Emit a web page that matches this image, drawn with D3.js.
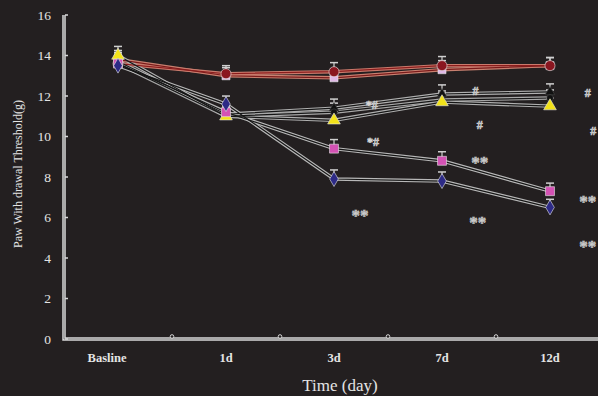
<!DOCTYPE html>
<html>
<head>
<meta charset="utf-8">
<script src="https://cdn.jsdelivr.net/npm/d3@7"></script>
<style>
  body { margin: 0; background: #231f20; }
  text { font-family: "Liberation Serif", "DejaVu Serif", serif; }
</style>
</head>
<body>
<script>
// categories and series
var days = ["Basline", "1d", "3d", "7d", "12d"];
var yTicks = [0, 2, 4, 6, 8, 10, 12, 14, 16];

var redCircle   = [13.6, 13.1, 13.2, 13.5, 13.5];
var lilacSquare = [13.8, 13.0, 12.9, 13.3, 13.5];
var blackA      = [13.7, 11.1, 11.4, 12.1, 12.2];
var blackB      = [13.6, 11.0, 11.2, 11.8, 11.9];
var yellowTri   = [14.0, 11.0, 10.8, 11.7, 11.5];
var pinkSquare  = [13.6, 11.2, 9.4, 8.8, 7.3];
var blueDiamond = [13.5, 11.6, 7.9, 7.8, 6.5];
var errs        = [0.3, 0.25, 0.3, 0.3, 0.25];

// significance marks: category, offset (fraction of band), value
var markLabels = ["**", "*#", "*#", "**", "**", "#", "#", "#", "#", "**", "**"];
var markDays   = ["3d", "3d", "3d", "7d", "7d", "7d", "7d", "12d", "12d", "12d", "12d"];
var markShift  = [0.24, 0.35, 0.36, 0.35, 0.33, 0.31, 0.35, 0.35, 0.4, 0.35, 0.35];
var markValues = [6.27, 11.56, 9.73, 8.9, 5.93, 12.25, 10.57, 12.15, 10.3, 7.0, 4.74];

var series = [
  {name: "lilac", values: lilacSquare, sym: d3.symbolSquare, size: 65, fill: "#e0b8e6", outer: "#c98070", inner: "#7a1a1a"},
  {name: "red", values: redCircle, sym: d3.symbolCircle, size: 80, fill: "#8a1620", outer: "#c97a6c", inner: "#8b1c1c"},
  {name: "blackA", values: blackA, sym: d3.symbolTriangle, size: 40, fill: "#111", outer: "#b0b0b0", inner: "#151515"},
  {name: "blackB", values: blackB, sym: d3.symbolCircle, size: 35, fill: "#111", outer: "#a8a8a8", inner: "#151515"},
  {name: "yellow", values: yellowTri, sym: d3.symbolTriangle, size: 70, fill: "#f2e21a", outer: "#b0b0b0", inner: "#151515"},
  {name: "pink", values: pinkSquare, sym: d3.symbolSquare, size: 80, fill: "#d452b4", outer: "#b8b8b8", inner: "#151515"},
  {name: "blue", values: blueDiamond, sym: d3.symbolDiamond, size: 65, fill: "#2d2a86", outer: "#b8b8b8", inner: "#151515"}
];

var W = 598, H = 396;
var svg = d3.select("body").append("svg")
    .attr("width", W)
    .attr("height", H)
    .style("background-color", "#231f20")

var x = d3.scaleBand().domain(days).range([64, 604]);
var y = d3.scaleLinear().domain([0, 16]).range([339, 15]);
var cx = d => x(d) + x.bandwidth() / 2;

// axes (double line look)
var axis = svg.append("g")
axis.append("path")
    .attr("d", "M" + 64 + "," + y(16) + "V" + y(0) + "H" + W)
    .attr("fill", "none").attr("stroke", "#d8d8d8").attr("stroke-width", 3.5)
axis.append("path")
    .attr("d", "M" + 64 + "," + y(16) + "V" + y(0) + "H" + W)
    .attr("fill", "none").attr("stroke", "#7a7a7a").attr("stroke-width", 1)

axis.selectAll(".yt").data(yTicks).enter().append("line")
    .attr("x1", 65).attr("x2", 68)
    .attr("y1", d => y(d)).attr("y2", d => y(d))
    .attr("stroke", "#d8d8d8").attr("stroke-width", 1.5)

axis.selectAll(".yl").data(yTicks).enter().append("text")
    .attr("x", 51).attr("y", d => y(d))
    .attr("dy", "0.35em")
    .attr("text-anchor", "end")
    .attr("fill", "#e4e4e4")
    .style("font-size", "13.5px")
    .text(d => d)

axis.selectAll(".xt").data(days.slice(1)).enter().append("circle")
    .attr("cx", d => x(d)).attr("cy", y(0) - 2.5)
    .attr("r", 1.8)
    .attr("fill", "#231f20").attr("stroke", "#d8d8d8").attr("stroke-width", 1)

axis.selectAll(".xl").data(days).enter().append("text")
    .attr("x", (d, i) => i == 0 ? cx(d) - 11 : cx(d))
    .attr("y", 362)
    .attr("text-anchor", "middle")
    .attr("fill", "#e4e4e4")
    .style("font-size", "12.5px")
    .style("font-weight", "bold")
    .text(d => d)

svg.append("text")
    .attr("x", 340).attr("y", 391)
    .attr("text-anchor", "middle")
    .attr("fill", "#e4e4e4")
    .style("font-size", "17px")
    .text("Time (day)")

svg.append("text")
    .attr("transform", "translate(22,174) rotate(-90)")
    .attr("text-anchor", "middle")
    .attr("fill", "#e4e4e4")
    .style("font-size", "12px")
    .text("Paw With drawal Threshold(g)")

// lines
var line = d3.line().x((d, i) => cx(days[i])).y(d => y(d));
var lines = svg.append("g")
series.forEach(s => {
  lines.append("path").datum(s.values)
      .attr("d", line).attr("fill", "none")
      .attr("stroke", s.outer).attr("stroke-width", 3.5)
})
series.forEach(s => {
  lines.append("path").datum(s.values)
      .attr("d", line).attr("fill", "none")
      .attr("stroke", s.inner).attr("stroke-width", 1.2)
})

// error bars
var bars = svg.append("g")
series.forEach(s => {
  var g = bars.append("g")
  g.selectAll("line.v").data(s.values).enter().append("line")
      .attr("x1", (d, i) => cx(days[i])).attr("x2", (d, i) => cx(days[i]))
      .attr("y1", d => y(d)).attr("y2", (d, i) => y(d + errs[i]) - 3)
      .attr("stroke", "#d0d0d0").attr("stroke-width", 1.2)
  g.selectAll("line.c").data(s.values).enter().append("line")
      .attr("x1", (d, i) => cx(days[i]) - 4).attr("x2", (d, i) => cx(days[i]) + 4)
      .attr("y1", (d, i) => y(d + errs[i]) - 3).attr("y2", (d, i) => y(d + errs[i]) - 3)
      .attr("stroke", "#d0d0d0").attr("stroke-width", 1.5)
})

// markers
var marks = svg.append("g")
series.forEach(s => {
  marks.selectAll(null).data(s.values).enter().append("path")
      .attr("d", d3.symbol().type(s.sym).size(s.size))
      .attr("transform", (d, i) => "translate(" + cx(days[i]) + "," + y(d) + ")")
      .attr("fill", s.fill)
      .attr("stroke", s.fill == "#111" ? "#444" : "#e8e8e8")
      .attr("stroke-width", 0.6)
})

// significance labels
svg.append("g").selectAll("text").data(markLabels).enter().append("text")
    .attr("x", (d, i) => cx(markDays[i]) + markShift[i] * x.step())
    .attr("y", (d, i) => y(markValues[i]))
    .attr("dy", d => d == "**" ? "0.55em" : "0.35em")
    .attr("text-anchor", "middle")
    .attr("fill", "#9a9a9a")
    .attr("stroke", "#dcdcdc")
    .attr("stroke-width", 0.5)
    .style("font-size", d => d == "**" ? "17px" : "12px")
    .style("font-weight", "bold")
    .text(d => d)
</script>
</body>
</html>
